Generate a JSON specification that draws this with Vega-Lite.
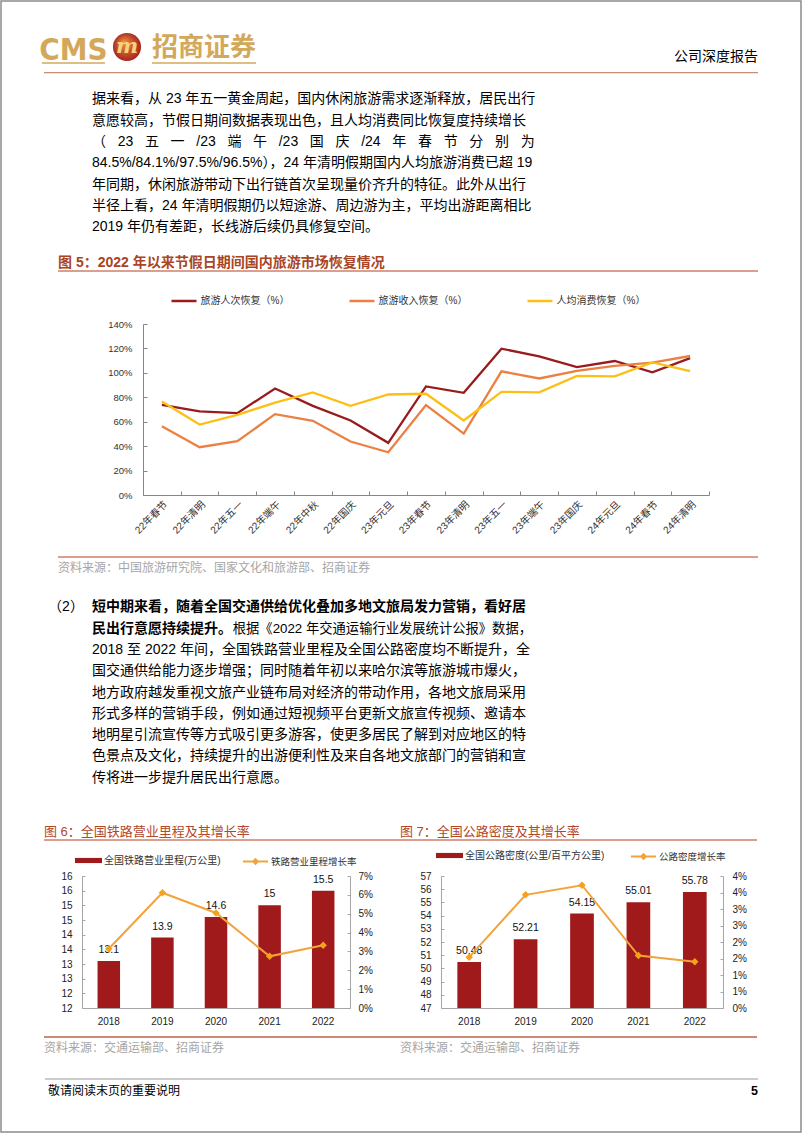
{
  "$schema": "https://vega.github.io/schema/vega-lite/v6.json",
  "padding": 0,
  "background": "white",
  "bounds": "flush",
  "spacing": 0,
  "resolve": {
    "scale": {"color": "independent", "fill": "independent", "stroke": "independent"},
    "legend": {"color": "independent", "fill": "independent", "stroke": "independent"}
  },
  "config": {
    "view": {"stroke": null},
    "axis": {"grid": false, "labelOverlap": false}
  },
  "vconcat": [
    {"width": 802, "height": 1, "data": {"values": []}, "mark": "point"},
    {
      "bounds": "flush", "spacing": 0,
      "hconcat": [
        {"width": 1, "height": 1, "data": {"values": []}, "mark": "point"},
        {"width": 800, "height": 1131, "view": {"stroke": "#8C8C8C", "strokeWidth": 1.5, "fill": null}, "data": {"values": []}, "mark": "point"}
      ]
    },
    {"width": 802, "height": 30, "data": {"values": []}, "mark": "point"},
    {
      "bounds": "flush", "spacing": 0,
      "hconcat": [
        {"width": 42, "height": 1, "data": {"values": []}, "mark": "point"},
        {
          "width": 63, "height": 32,
          "data": {"values": [{"name": "CMS"}]},
          "layer": [
            {"mark": {"type": "text", "align": "center", "baseline": "alphabetic", "dy": -3, "fontSize": 31, "fontWeight": "bold", "font": "Liberation Sans Narrow, DejaVu Sans Condensed, Liberation Sans", "color": "#D4A85A"}, "encoding": {"text": {"field": "name", "type": "nominal"}, "y": {"value": "height"}}},
            {"mark": {"type": "rule", "color": "#D4A85A", "strokeWidth": 1.5}, "encoding": {"y": {"value": "height"}}}
          ]
        },
        {"width": 5, "height": 1, "data": {"values": []}, "mark": "point"},
        {
          "width": 34, "height": 32,
          "data": {"values": [{"name": "m"}]},
          "layer": [
            {"mark": {"type": "point", "shape": "circle", "filled": true, "opacity": 1, "size": 790, "color": {"gradient": "radial", "x1": 0.38, "y1": 0.32, "x2": 0.5, "y2": 0.5, "r1": 0, "r2": 0.55, "stops": [{"offset": 0, "color": "#F29240"}, {"offset": 1, "color": "#A01E1C"}]}}, "encoding": {}},
            {"mark": {"type": "text", "align": "center", "baseline": "middle", "fontSize": 21, "fontWeight": "bold", "fontStyle": "italic", "font": "DejaVu Serif", "color": "#F6D27A"}, "encoding": {"text": {"field": "name", "type": "nominal"}}}
          ]
        },
        {"width": 8, "height": 1, "data": {"values": []}, "mark": "point"},
        {
          "width": 104, "height": 32,
          "data": {"values": [{"name": "招商证券"}]},
          "layer": [
            {"mark": {"type": "text", "align": "center", "baseline": "middle", "dy": 1, "fontSize": 26, "fontWeight": "bold", "font": "Noto Sans CJK SC", "color": "#D4A85A"}, "encoding": {"text": {"field": "name", "type": "nominal"}}},
            {"mark": {"type": "rule", "color": "#D4A85A", "strokeWidth": 1.5}, "encoding": {"y": {"value": "height"}}}
          ]
        },
        {"width": 418, "height": 1, "data": {"values": []}, "mark": "point"},
        {
          "width": 84, "height": 32,
          "data": {"values": [{"name": "公司深度报告"}]},
          "mark": {"type": "text", "align": "center", "baseline": "alphabetic", "dy": -2, "fontSize": 14, "font": "Noto Sans CJK SC", "color": "#000000"},
          "encoding": {"text": {"field": "name", "type": "nominal"}, "y": {"value": "height"}}
        }
      ]
    },
    {"width": 802, "height": 40.5, "data": {"values": []}, "mark": "point"},
    {
      "bounds": "flush", "spacing": 0,
      "hconcat": [
        {"width": 44, "height": 1, "data": {"values": []}, "mark": "point"},
        {"width": 714, "height": 1.2, "view": {"fill": "#C98A78", "stroke": null}, "data": {"values": []}, "mark": "point"}
      ]
    },
    {"width": 802, "height": 5.3, "data": {"values": []}, "mark": "point"},
    {
      "bounds": "flush", "spacing": 0,
      "hconcat": [
        {"width": 92, "height": 1, "data": {"values": []}, "mark": "point"},
        {
          "width": 440, "height": 170.4,
          "data": {"values": [
            {"line": 0, "text": "据来看，从 23 年五一黄金周起，国内休闲旅游需求逐渐释放，居民出行"},
            {"line": 1, "text": "意愿较高，节假日期间数据表现出色，且人均消费同比恢复度持续增长"},
            {"line": 2, "text": "（\u2002\u200423\u2002\u2004五\u2002\u2004一\u2002\u2004/23\u2002\u2004端\u2002\u2004午\u2002\u2004/23\u2002\u2004国\u2002\u2004庆\u2002\u2004/24\u2002\u2004年\u2002\u2004春\u2002\u2004节\u2002\u2004分\u2002\u2004别\u2002\u2004为"},
            {"line": 3, "text": "84.5%/84.1%/97.5%/96.5%），24 年清明假期国内人均旅游消费已超 19"},
            {"line": 4, "text": "年同期，休闲旅游带动下出行链首次呈现量价齐升的特征。此外从出行"},
            {"line": 5, "text": "半径上看，24 年清明假期仍以短途游、周边游为主，平均出游距离相比"},
            {"line": 6, "text": "2019 年仍有差距，长线游后续仍具修复空间。"}
          ]},
          "mark": {"type": "text", "align": "left", "baseline": "middle", "fontSize": 14, "font": "Liberation Sans, Noto Sans CJK SC", "color": "#000000"},
          "encoding": {
            "y": {"field": "line", "type": "quantitative", "scale": {"domain": [-1, 7], "reverse": true, "nice": false, "zero": false}, "axis": null},
            "x": {"value": 0},
            "text": {"field": "text", "type": "nominal"}
          }
        }
      ]
    },
    {"width": 802, "height": 170.4, "data": {"values": []}, "mark": "point"},
    {
      "bounds": "flush", "spacing": 0,
      "hconcat": [
        {"width": 58, "height": 1, "data": {"values": []}, "mark": "point"},
        {
          "width": 700, "height": 22.1,
          "data": {"values": [{"title": "图 5：2022 年以来节假日期间国内旅游市场恢复情况"}]},
          "layer": [
            {"mark": {"type": "text", "align": "left", "baseline": "alphabetic", "dy": -4, "fontSize": 14, "fontWeight": "bold", "font": "Liberation Sans, Noto Sans CJK SC", "color": "#A94424"}, "encoding": {"text": {"field": "title", "type": "nominal"}, "x": {"value": 0}, "y": {"value": "height"}}},
            {"mark": {"type": "rule", "color": "#CF7F6A", "strokeWidth": 1.5}, "encoding": {"y": {"value": "height"}}}
          ]
        }
      ]
    },
    {"width": 802, "height": 74.8, "data": {"values": []}, "mark": "point"},
    {
      "bounds": "flush", "spacing": 0,
      "resolve": {
        "scale": {"color": "independent", "fill": "independent", "stroke": "independent"},
        "legend": {"color": "independent", "fill": "independent", "stroke": "independent"}
      },
      "hconcat": [
        {"width": 143, "height": 1, "data": {"values": []}, "mark": "point"},
        {
          "width": 566, "height": 171,
          "data": {"values": [
            {"holiday": "22年春节", "series": "旅游人次恢复（%）", "value": 73.8},
            {"holiday": "22年清明", "series": "旅游人次恢复（%）", "value": 68.4},
            {"holiday": "22年五一", "series": "旅游人次恢复（%）", "value": 67.0},
            {"holiday": "22年端午", "series": "旅游人次恢复（%）", "value": 87.2},
            {"holiday": "22年中秋", "series": "旅游人次恢复（%）", "value": 73.0},
            {"holiday": "22年国庆", "series": "旅游人次恢复（%）", "value": 61.0},
            {"holiday": "23年元旦", "series": "旅游人次恢复（%）", "value": 42.7},
            {"holiday": "23年春节", "series": "旅游人次恢复（%）", "value": 88.9},
            {"holiday": "23年清明", "series": "旅游人次恢复（%）", "value": 83.7},
            {"holiday": "23年五一", "series": "旅游人次恢复（%）", "value": 119.8},
            {"holiday": "23年端午", "series": "旅游人次恢复（%）", "value": 113.5},
            {"holiday": "23年国庆", "series": "旅游人次恢复（%）", "value": 104.7},
            {"holiday": "24年元旦", "series": "旅游人次恢复（%）", "value": 109.7},
            {"holiday": "24年春节", "series": "旅游人次恢复（%）", "value": 100.4},
            {"holiday": "24年清明", "series": "旅游人次恢复（%）", "value": 112.1},
            {"holiday": "22年春节", "series": "旅游收入恢复（%）", "value": 56.3},
            {"holiday": "22年清明", "series": "旅游收入恢复（%）", "value": 39.1},
            {"holiday": "22年五一", "series": "旅游收入恢复（%）", "value": 44.0},
            {"holiday": "22年端午", "series": "旅游收入恢复（%）", "value": 66.2},
            {"holiday": "22年中秋", "series": "旅游收入恢复（%）", "value": 60.7},
            {"holiday": "22年国庆", "series": "旅游收入恢复（%）", "value": 43.8},
            {"holiday": "23年元旦", "series": "旅游收入恢复（%）", "value": 35.0},
            {"holiday": "23年春节", "series": "旅游收入恢复（%）", "value": 73.6},
            {"holiday": "23年清明", "series": "旅游收入恢复（%）", "value": 50.3},
            {"holiday": "23年五一", "series": "旅游收入恢复（%）", "value": 101.2},
            {"holiday": "23年端午", "series": "旅游收入恢复（%）", "value": 95.4},
            {"holiday": "23年国庆", "series": "旅游收入恢复（%）", "value": 101.7},
            {"holiday": "24年元旦", "series": "旅游收入恢复（%）", "value": 105.8},
            {"holiday": "24年春节", "series": "旅游收入恢复（%）", "value": 108.3},
            {"holiday": "24年清明", "series": "旅游收入恢复（%）", "value": 113.8},
            {"holiday": "22年春节", "series": "人均消费恢复（%）", "value": 76.6},
            {"holiday": "22年清明", "series": "人均消费恢复（%）", "value": 57.7},
            {"holiday": "22年五一", "series": "人均消费恢复（%）", "value": 65.6},
            {"holiday": "22年端午", "series": "人均消费恢复（%）", "value": 75.7},
            {"holiday": "22年中秋", "series": "人均消费恢复（%）", "value": 84.0},
            {"holiday": "22年国庆", "series": "人均消费恢复（%）", "value": 73.0},
            {"holiday": "23年元旦", "series": "人均消费恢复（%）", "value": 82.3},
            {"holiday": "23年春节", "series": "人均消费恢复（%）", "value": 82.9},
            {"holiday": "23年清明", "series": "人均消费恢复（%）", "value": 61.0},
            {"holiday": "23年五一", "series": "人均消费恢复（%）", "value": 84.5},
            {"holiday": "23年端午", "series": "人均消费恢复（%）", "value": 84.1},
            {"holiday": "23年国庆", "series": "人均消费恢复（%）", "value": 97.5},
            {"holiday": "24年元旦", "series": "人均消费恢复（%）", "value": 97.1},
            {"holiday": "24年春节", "series": "人均消费恢复（%）", "value": 108.6},
            {"holiday": "24年清明", "series": "人均消费恢复（%）", "value": 101.4}
          ]},
          "mark": {"type": "line", "strokeWidth": 2.3},
          "encoding": {
            "x": {"field": "holiday", "type": "nominal", "sort": null,
              "scale": {"type": "band", "paddingInner": 0, "paddingOuter": 0},
              "axis": {"title": null, "labelAngle": -45, "tickBand": "extent", "domainColor": "#868686", "tickColor": "#868686", "tickSize": -4, "labelPadding": 8, "labelFontSize": 10, "labelColor": "#333333", "labelFont": "Liberation Sans, Noto Sans CJK SC"}},
            "y": {"field": "value", "type": "quantitative", "scale": {"domain": [0, 140], "nice": false},
              "axis": {"title": null, "values": [0, 20, 40, 60, 80, 100, 120, 140], "labelExpr": "datum.value + '%'", "domainColor": "#868686", "tickColor": "#868686", "tickSize": -4, "labelPadding": 15, "labelFontSize": 9.5, "labelColor": "#333333", "labelFont": "Liberation Sans"}},
            "color": {"field": "series", "type": "nominal",
              "scale": {"domain": ["旅游人次恢复（%）", "旅游收入恢复（%）", "人均消费恢复（%）"], "range": ["#981B1E", "#EC8042", "#FDBF16"]},
              "legend": {"title": null, "orient": "none", "legendX": 27, "legendY": -37, "direction": "horizontal", "padding": 0, "symbolType": "stroke", "symbolSize": 625, "symbolStrokeWidth": 2.5, "labelFontSize": 10, "labelFont": "Liberation Sans, Noto Sans CJK SC", "labelColor": "#333333", "labelOffset": 2.5, "columnPadding": 54, "labelLimit": 300}}
          }
        }
      ]
    },
    {"width": 802, "height": 232.3, "data": {"values": []}, "mark": "point"},
    {
      "bounds": "flush", "spacing": 0,
      "hconcat": [
        {"width": 58, "height": 1, "data": {"values": []}, "mark": "point"},
        {
          "width": 700, "height": 11.2,
          "data": {"values": [{"source": "资料来源：中国旅游研究院、国家文化和旅游部、招商证券"}]},
          "layer": [
            {"mark": {"type": "rule", "color": "#CF7F6A", "strokeWidth": 1.5}, "encoding": {"y": {"value": 0}}},
            {"mark": {"type": "text", "align": "left", "baseline": "middle", "fontSize": 12, "font": "Liberation Sans, Noto Sans CJK SC", "color": "#A6A6A6"}, "encoding": {"text": {"field": "source", "type": "nominal"}, "x": {"value": 0}, "y": {"value": "height"}}}
          ]
        }
      ]
    },
    {"width": 802, "height": 29, "data": {"values": []}, "mark": "point"},
    {
      "bounds": "flush", "spacing": 0,
      "hconcat": [
        {"width": 46, "height": 1, "data": {"values": []}, "mark": "point"},
        {
          "width": 40, "height": 213,
          "data": {"values": [{"line": 0, "text": "（2）"}]},
          "mark": {"type": "text", "align": "center", "baseline": "middle", "fontSize": 14, "font": "Liberation Sans, Noto Sans CJK SC", "color": "#000000"},
          "encoding": {
            "y": {"field": "line", "type": "quantitative", "scale": {"domain": [-1, 9], "reverse": true, "nice": false, "zero": false}, "axis": null},
            "text": {"field": "text", "type": "nominal"}
          }
        },
        {"width": 6, "height": 1, "data": {"values": []}, "mark": "point"},
        {
          "width": 440, "height": 213,
          "encoding": {
            "y": {"field": "line", "type": "quantitative", "scale": {"domain": [-1, 9], "reverse": true, "nice": false, "zero": false}, "axis": null}
          },
          "layer": [
            {
              "data": {"values": [
                {"line": 2, "text": "2018 至 2022 年间，全国铁路营业里程及全国公路密度均不断提升，全"},
                {"line": 3, "text": "国交通供给能力逐步增强；同时随着年初以来哈尔滨等旅游城市爆火，"},
                {"line": 4, "text": "地方政府越发重视文旅产业链布局对经济的带动作用，各地文旅局采用"},
                {"line": 5, "text": "形式多样的营销手段，例如通过短视频平台更新文旅宣传视频、邀请本"},
                {"line": 6, "text": "地明星引流宣传等方式吸引更多游客，使更多居民了解到对应地区的特"},
                {"line": 7, "text": "色景点及文化，持续提升的出游便利性及来自各地文旅部门的营销和宣"},
                {"line": 8, "text": "传将进一步提升居民出行意愿。"}
              ]},
              "mark": {"type": "text", "align": "left", "baseline": "middle", "fontSize": 14, "font": "Liberation Sans, Noto Sans CJK SC", "color": "#000000"},
              "encoding": {
                "x": {"value": 0},
                "text": {"field": "text", "type": "nominal"}
              }
            },
            {
              "data": {"values": [
                {"line": 1, "text": "根据《2022 年交通运输行业发展统计公报》数据，"}
              ]},
              "mark": {"type": "text", "align": "right", "baseline": "middle", "fontSize": 13.3, "font": "Liberation Sans, Noto Sans CJK SC", "color": "#000000"},
              "encoding": {
                "x": {"value": "width"},
                "text": {"field": "text", "type": "nominal"}
              }
            },
            {
              "data": {"values": [
                {"line": 0, "text": "短中期来看，随着全国交通供给优化叠加多地文旅局发力营销，看好居"},
                {"line": 1, "text": "民出行意愿持续提升。"}
              ]},
              "mark": {"type": "text", "align": "left", "baseline": "middle", "fontSize": 14, "fontWeight": "bold", "font": "Liberation Sans, Noto Sans CJK SC", "color": "#000000"},
              "encoding": {
                "x": {"value": 0},
                "text": {"field": "text", "type": "nominal"}
              }
            }
          ]
        }
      ]
    },
    {"width": 802, "height": 213, "data": {"values": []}, "mark": "point"},
    {
      "bounds": "flush", "spacing": 0,
      "hconcat": [
        {"width": 44, "height": 1, "data": {"values": []}, "mark": "point"},
        {
          "width": 356, "height": 41,
          "data": {"values": [{"title": "图 6：全国铁路营业里程及其增长率"}]},
          "layer": [
            {"mark": {"type": "text", "align": "left", "baseline": "alphabetic", "dy": -4.4, "fontSize": 13, "font": "Liberation Sans, Noto Sans CJK SC", "color": "#B4472A"}, "encoding": {"text": {"field": "title", "type": "nominal"}, "x": {"value": 0}, "y": {"value": "height"}}},
            {"mark": {"type": "rule", "color": "#CF7F6A", "strokeWidth": 1.5}, "encoding": {"y": {"value": "height"}}}
          ]
        },
        {
          "width": 357, "height": 41,
          "data": {"values": [{"title": "图 7：全国公路密度及其增长率"}]},
          "layer": [
            {"mark": {"type": "text", "align": "left", "baseline": "alphabetic", "dy": -4.4, "fontSize": 13, "font": "Liberation Sans, Noto Sans CJK SC", "color": "#B4472A"}, "encoding": {"text": {"field": "title", "type": "nominal"}, "x": {"value": 0}, "y": {"value": "height"}}},
            {"mark": {"type": "rule", "color": "#CF7F6A", "strokeWidth": 1.5}, "encoding": {"y": {"value": "height"}}}
          ]
        }
      ]
    },
    {"width": 802, "height": 76.7, "data": {"values": []}, "mark": "point"},
    {
      "bounds": "flush", "spacing": 0,
      "resolve": {
        "scale": {"color": "independent", "fill": "independent", "stroke": "independent"},
        "legend": {"color": "independent", "fill": "independent", "stroke": "independent"}
      },
      "hconcat": [
        {"width": 82, "height": 1, "data": {"values": []}, "mark": "point"},
        {
          "width": 268, "height": 132,
          "data": {"values": [
            {"year": "2018", "mileage": 13.1, "rate": 3.14, "bar": "全国铁路营业里程(万公里)", "line": "铁路营业里程增长率"},
            {"year": "2019", "mileage": 13.9, "rate": 6.11, "bar": "全国铁路营业里程(万公里)", "line": "铁路营业里程增长率"},
            {"year": "2020", "mileage": 14.6, "rate": 5.04, "bar": "全国铁路营业里程(万公里)", "line": "铁路营业里程增长率"},
            {"year": "2021", "mileage": 15, "rate": 2.74, "bar": "全国铁路营业里程(万公里)", "line": "铁路营业里程增长率"},
            {"year": "2022", "mileage": 15.5, "rate": 3.33, "bar": "全国铁路营业里程(万公里)", "line": "铁路营业里程增长率"}
          ]},
          "encoding": {
            "x": {"field": "year", "type": "nominal", "scale": {"type": "band", "paddingInner": 0.58, "paddingOuter": 0.29},
              "axis": {"title": null, "labelAngle": 0, "ticks": false, "labelPadding": 8, "domainColor": "#A6A6A6", "labelFontSize": 10, "labelFont": "Liberation Sans", "labelColor": "#222222"}}
          },
          "layer": [
            {
              "encoding": {
                "y": {"field": "mileage", "type": "quantitative", "scale": {"domain": [11.5, 16], "zero": false, "nice": false},
                  "axis": {"title": null, "orient": "left", "values": [11.5, 12, 12.5, 13, 13.5, 14, 14.5, 15, 15.5, 16], "labelExpr": "round(datum.value) + ''", "labelOverlap": false, "domainColor": "#A6A6A6", "tickColor": "#A6A6A6", "tickSize": -3, "labelPadding": 13, "labelFontSize": 10, "labelFont": "Liberation Sans", "labelColor": "#222222"}}
              },
              "layer": [
                {
                  "mark": {"type": "bar"},
                  "encoding": {
                    "y2": {"datum": 11.5},
                    "fill": {"field": "bar", "type": "nominal", "scale": {"range": ["#A0191B"]},
                      "legend": {"title": null, "orient": "none", "legendX": -7, "legendY": -29, "padding": 0, "symbolType": "M-1,-0.19H1V0.19H-1Z", "symbolSize": 729, "symbolStrokeWidth": 0, "labelFontSize": 10, "labelFont": "Liberation Sans, Noto Sans CJK SC", "labelColor": "#333333", "labelOffset": 2, "labelLimit": 300}}
                  }
                },
                {
                  "mark": {"type": "text", "baseline": "bottom", "dy": -6, "fontSize": 10.5, "font": "Liberation Sans", "color": "#111111"},
                  "encoding": {
                    "text": {"field": "mileage", "type": "quantitative"}
                  }
                }
              ]
            },
            {
              "encoding": {
                "y": {"field": "rate", "type": "quantitative", "scale": {"domain": [0, 7], "nice": false},
                  "axis": {"title": null, "orient": "right", "values": [0, 1, 2, 3, 4, 5, 6, 7], "labelExpr": "round(datum.value) + '%'", "labelOverlap": false, "domainColor": "#A6A6A6", "tickColor": "#A6A6A6", "tickSize": -3, "labelPadding": 11, "labelFontSize": 10, "labelFont": "Liberation Sans", "labelColor": "#222222"}}
              },
              "layer": [
                {
                  "mark": {"type": "line", "strokeWidth": 2},
                  "encoding": {
                    "stroke": {"field": "line", "type": "nominal", "scale": {"range": ["#F2A33A"]},
                      "legend": {"title": null, "orient": "none", "legendX": 160, "legendY": -28, "padding": 0, "symbolType": "M-1,0H1M0,-0.18L0.18,0L0,0.18L-0.18,0Z", "symbolSize": 625, "symbolStrokeWidth": 2, "symbolFillColor": "#F5A11C", "labelFontSize": 9.5, "labelFont": "Liberation Sans, Noto Sans CJK SC", "labelColor": "#333333", "labelOffset": 2, "labelLimit": 300}}
                  }
                },
                {
                  "mark": {"type": "point", "shape": "diamond", "filled": true, "opacity": 1, "size": 55, "color": "#F5A11C"},
                  "encoding": {}
                }
              ]
            }
          ],
          "resolve": {"scale": {"y": "independent"}}
        },
        {"width": 91, "height": 1, "data": {"values": []}, "mark": "point"},
        {
          "width": 282, "height": 132,
          "data": {"values": [
            {"year": "2018", "density": 50.48, "rate": 1.54, "bar": "全国公路密度(公里/百平方公里)", "line": "公路密度增长率"},
            {"year": "2019", "density": 52.21, "rate": 3.43, "bar": "全国公路密度(公里/百平方公里)", "line": "公路密度增长率"},
            {"year": "2020", "density": 54.15, "rate": 3.72, "bar": "全国公路密度(公里/百平方公里)", "line": "公路密度增长率"},
            {"year": "2021", "density": 55.01, "rate": 1.59, "bar": "全国公路密度(公里/百平方公里)", "line": "公路密度增长率"},
            {"year": "2022", "density": 55.78, "rate": 1.4, "bar": "全国公路密度(公里/百平方公里)", "line": "公路密度增长率"}
          ]},
          "encoding": {
            "x": {"field": "year", "type": "nominal", "scale": {"type": "band", "paddingInner": 0.58, "paddingOuter": 0.29},
              "axis": {"title": null, "labelAngle": 0, "ticks": false, "labelPadding": 8, "domainColor": "#A6A6A6", "labelFontSize": 10, "labelFont": "Liberation Sans", "labelColor": "#222222"}}
          },
          "layer": [
            {
              "encoding": {
                "y": {"field": "density", "type": "quantitative", "scale": {"domain": [47, 57], "zero": false, "nice": false},
                  "axis": {"title": null, "orient": "left", "values": [47, 48, 49, 50, 51, 52, 53, 54, 55, 56, 57], "labelExpr": "round(datum.value) + ''", "labelOverlap": false, "domainColor": "#A6A6A6", "tickColor": "#A6A6A6", "tickSize": -3, "labelPadding": 13, "labelFontSize": 10, "labelFont": "Liberation Sans", "labelColor": "#222222"}}
              },
              "layer": [
                {
                  "mark": {"type": "bar"},
                  "encoding": {
                    "y2": {"datum": 47},
                    "fill": {"field": "bar", "type": "nominal", "scale": {"range": ["#A0191B"]},
                      "legend": {"title": null, "orient": "none", "legendX": -5, "legendY": -34, "padding": 0, "symbolType": "M-1,-0.19H1V0.19H-1Z", "symbolSize": 729, "symbolStrokeWidth": 0, "labelFontSize": 10, "labelFont": "Liberation Sans, Noto Sans CJK SC", "labelColor": "#333333", "labelOffset": 2, "labelLimit": 300}}
                  }
                },
                {
                  "mark": {"type": "text", "baseline": "bottom", "dy": -6, "fontSize": 10.5, "font": "Liberation Sans", "color": "#111111"},
                  "encoding": {
                    "text": {"field": "density", "type": "quantitative"}
                  }
                }
              ]
            },
            {
              "encoding": {
                "y": {"field": "rate", "type": "quantitative", "scale": {"domain": [0, 4], "nice": false},
                  "axis": {"title": null, "orient": "right", "values": [0, 0.5, 1, 1.5, 2, 2.5, 3, 3.5, 4], "labelExpr": "round(datum.value) + '%'", "labelOverlap": false, "domainColor": "#A6A6A6", "tickColor": "#A6A6A6", "tickSize": -3, "labelPadding": 12, "labelFontSize": 10, "labelFont": "Liberation Sans", "labelColor": "#222222"}}
              },
              "layer": [
                {
                  "mark": {"type": "line", "strokeWidth": 2},
                  "encoding": {
                    "stroke": {"field": "line", "type": "nominal", "scale": {"range": ["#F2A33A"]},
                      "legend": {"title": null, "orient": "none", "legendX": 189, "legendY": -33, "padding": 0, "symbolType": "M-1,0H1M0,-0.18L0.18,0L0,0.18L-0.18,0Z", "symbolSize": 625, "symbolStrokeWidth": 2, "symbolFillColor": "#F5A11C", "labelFontSize": 9.5, "labelFont": "Liberation Sans, Noto Sans CJK SC", "labelColor": "#333333", "labelOffset": 2, "labelLimit": 300}}
                  }
                },
                {
                  "mark": {"type": "point", "shape": "diamond", "filled": true, "opacity": 1, "size": 55, "color": "#F5A11C"},
                  "encoding": {}
                }
              ]
            }
          ],
          "resolve": {"scale": {"y": "independent"}}
        }
      ]
    },
    {"width": 802, "height": 160.5, "data": {"values": []}, "mark": "point"},
    {
      "bounds": "flush", "spacing": 0,
      "hconcat": [
        {"width": 44, "height": 1, "data": {"values": []}, "mark": "point"},
        {
          "width": 356, "height": 10.5,
          "data": {"values": [{"source": "资料来源：交通运输部、招商证券"}]},
          "layer": [
            {"mark": {"type": "rule", "color": "#C98A78", "strokeWidth": 1.8}, "encoding": {"y": {"value": 0}}},
            {"mark": {"type": "text", "align": "left", "baseline": "middle", "fontSize": 12, "font": "Liberation Sans, Noto Sans CJK SC", "color": "#A6A6A6"}, "encoding": {"text": {"field": "source", "type": "nominal"}, "x": {"value": 0}, "y": {"value": "height"}}}
          ]
        },
        {
          "width": 357, "height": 10.5,
          "data": {"values": [{"source": "资料来源：交通运输部、招商证券"}]},
          "layer": [
            {"mark": {"type": "rule", "color": "#C98A78", "strokeWidth": 1.8}, "encoding": {"y": {"value": 0}}},
            {"mark": {"type": "text", "align": "left", "baseline": "middle", "fontSize": 12, "font": "Liberation Sans, Noto Sans CJK SC", "color": "#A6A6A6"}, "encoding": {"text": {"field": "source", "type": "nominal"}, "x": {"value": 0}, "y": {"value": "height"}}}
          ]
        }
      ]
    },
    {"width": 802, "height": 41.5, "data": {"values": []}, "mark": "point"},
    {
      "bounds": "flush", "spacing": 0,
      "hconcat": [
        {"width": 45, "height": 1, "data": {"values": []}, "mark": "point"},
        {
          "width": 356, "height": 11.5,
          "data": {"values": [{"note": "敬请阅读末页的重要说明"}]},
          "layer": [
            {"mark": {"type": "rule", "color": "#999999", "strokeWidth": 1}, "encoding": {"y": {"value": 0}}},
            {"mark": {"type": "text", "align": "left", "baseline": "middle", "dx": 3, "fontSize": 12, "font": "Noto Sans CJK SC", "color": "#000000"}, "encoding": {"text": {"field": "note", "type": "nominal"}, "x": {"value": 0}, "y": {"value": "height"}}}
          ]
        },
        {
          "width": 357, "height": 11.5,
          "data": {"values": [{"page": "5"}]},
          "layer": [
            {"mark": {"type": "rule", "color": "#999999", "strokeWidth": 1}, "encoding": {"y": {"value": 0}}},
            {"mark": {"type": "text", "align": "right", "baseline": "middle", "fontSize": 12.5, "fontWeight": "bold", "font": "Liberation Sans", "color": "#000000"}, "encoding": {"text": {"field": "page", "type": "nominal"}, "x": {"value": "width"}, "y": {"value": "height"}}}
          ]
        }
      ]
    },
    {"width": 802, "height": 58, "data": {"values": []}, "mark": "point"}
  ]
}
